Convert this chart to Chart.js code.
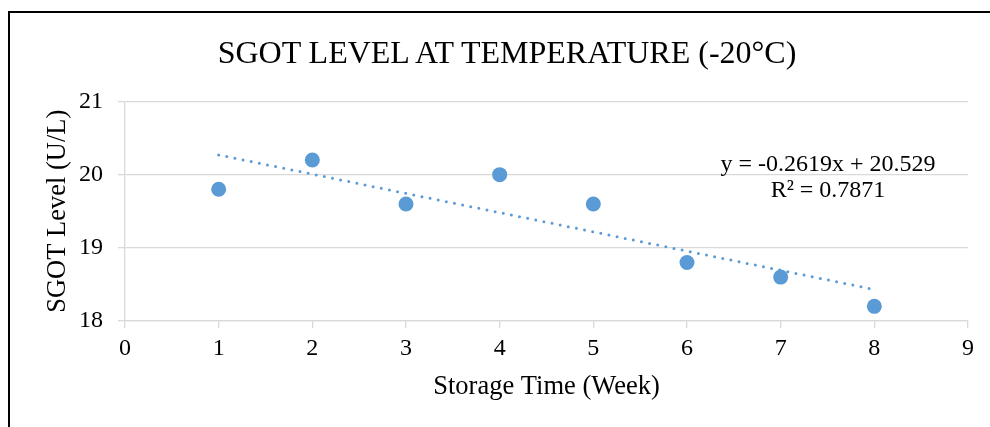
<!DOCTYPE html>
<html>
<head>
<meta charset="utf-8">
<script src="https://cdn.jsdelivr.net/npm/chart.js@4/dist/chart.umd.min.js"></script>
<style>
  body { margin: 0; background: #fff; }
  #wrap { position: relative; width: 990px; height: 427px; overflow: hidden; }
  #frame { position: absolute; left: 8px; top: 11px; width: 1100px; height: 600px; border: 2px solid #000; }
  #chart { position: absolute; left: 0; top: 0; }
  #title { position: absolute; left: 207px; top: 34px; width: 600px; text-align: center; white-space: nowrap;
           font: 32px 'Liberation Serif', 'Times New Roman', serif; line-height: 36px; color: #000; }
  #eq { position: absolute; left: 678px; top: 150px; width: 300px; text-align: center;
        font: 24px 'Liberation Serif', 'Times New Roman', serif; line-height: 26px; color: #000; white-space: nowrap; }
</style>
</head>
<body>
<div id="wrap">
  <div id="frame"></div>
  <canvas id="chart" width="990" height="427"></canvas>
  <div id="title">SGOT LEVEL AT TEMPERATURE (-20°C)</div>
  <div id="eq">y = -0.2619x + 20.529<br>R² = 0.7871</div>
</div>
<script>
const weeks = [1, 2, 3, 4, 5, 6, 7, 8];
const sgot = [19.8, 20.2, 19.6, 20.0, 19.6, 18.8, 18.6, 18.2];
const trendX = [1, 8];
const trendY = [20.27, 18.43];
const xTicks = [0, 1, 2, 3, 4, 5, 6, 7, 8, 9];
const yTicks = [18, 19, 20, 21];

const blue = '#5b9bd5';
const gridColor = '#d9d9d9';
Chart.defaults.font.family = "'Liberation Serif', 'Times New Roman', serif";
Chart.defaults.color = '#000';

new Chart(document.getElementById('chart'), {
  type: 'scatter',
  data: {
    datasets: [
      {
        label: 'SGOT',
        data: weeks.map((w, i) => ({ x: w, y: sgot[i] })),
        backgroundColor: blue,
        borderWidth: 0,
        pointRadius: 7.5,
        pointHoverRadius: 7.5
      },
      {
        label: 'Trend',
        type: 'line',
        data: trendX.map((w, i) => ({ x: w, y: trendY[i] })),
        borderColor: blue,
        borderWidth: 3,
        borderDash: [0, 8.3],
        borderCapStyle: 'round',
        pointRadius: 0,
        fill: false
      }
    ]
  },
  options: {
    responsive: false,
    animation: false,
    layout: { padding: { left: 0, right: 22, top: 101.5, bottom: 0 } },
    plugins: {
      legend: { display: false },
      tooltip: { enabled: false },
      title: { display: false }
    },
    scales: {
      x: {
        type: 'linear',
        min: 0,
        max: 9,
        afterFit: s => { s.height = 106; },
        afterBuildTicks: s => { s.ticks = xTicks.map(v => ({ value: v })); },
        grid: { drawOnChartArea: false, color: gridColor, tickLength: 7, lineWidth: 1.3 },
        border: { display: true, color: gridColor, width: 1.3 },
        ticks: { font: { size: 24 }, padding: 6, color: '#000' },
        title: { display: true, text: 'Storage Time (Week)', font: { size: 26.5 }, padding: { top: 0, bottom: 24.5 }, color: '#000' }
      },
      y: {
        min: 18,
        max: 21,
        afterFit: s => { s.width = 125; },
        afterBuildTicks: s => { s.ticks = yTicks.map(v => ({ value: v })); },
        grid: { color: gridColor, tickLength: 7, lineWidth: 1.3 },
        border: { display: true, color: gridColor, width: 1.3 },
        ticks: { font: { size: 24 }, padding: 15, color: '#000' },
        title: { display: true, text: 'SGOT Level (U/L)', font: { size: 26.5 }, padding: { top: 42.5, bottom: 0 }, color: '#000' }
      }
    }
  }
});
</script>
</body>
</html>
